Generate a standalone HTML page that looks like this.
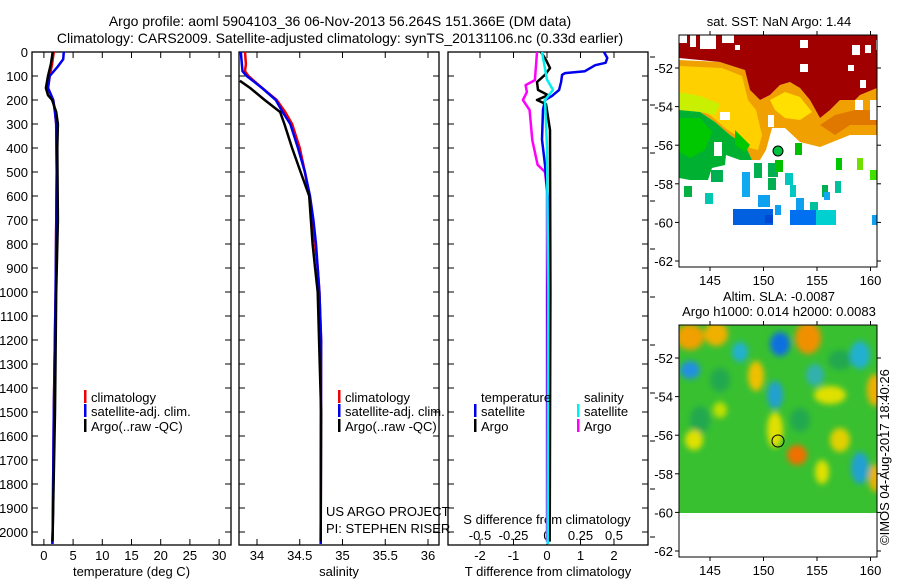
<!DOCTYPE html>
<html><head><meta charset="utf-8"><style>
html,body{margin:0;padding:0;background:#fff}
svg{display:block;font-family:"Liberation Sans",sans-serif}
</style></head><body>
<svg id="fig" width="900" height="580" viewBox="0 0 900 580" xmlns="http://www.w3.org/2000/svg">
<defs>
<filter id="blur" x="-20%" y="-20%" width="140%" height="140%"><feGaussianBlur stdDeviation="3"/></filter>
<clipPath id="clipSST"><rect x="679" y="35" width="198" height="232"/></clipPath>
<clipPath id="clipSLA"><rect x="679" y="325" width="198" height="188"/></clipPath>
</defs>
<text x="340" y="26" text-anchor="middle" font-size="14">Argo profile: aoml 5904103_36 06-Nov-2013 56.264S 151.366E (DM data)</text>
<text x="340" y="43" text-anchor="middle" font-size="14">Climatology: CARS2009. Satellite-adjusted climatology: synTS_20131106.nc (0.33d earlier)</text>

<!-- SST map -->
<g>
<text x="779" y="26" text-anchor="middle" font-size="13">sat. SST: NaN Argo: 1.44</text>
<g clip-path="url(#clipSST)">
<polygon fill="#f0a000" points="679,60 720,62 745,68 750,90 760,100 770,95 780,85 790,82 800,88 810,100 820,118 830,110 840,100 855,100 860,95 877,88 877,135 850,135 820,147 800,142 785,128 772,128 766,150 760,160 752,160 745,145 730,135 715,122 700,112 679,110"/>
<polygon fill="#ffd000" points="679,66 722,68 742,76 748,100 756,110 762,135 758,150 750,148 740,138 725,128 710,115 695,108 679,100"/>
<polygon fill="#ffe000" points="770,100 785,92 800,97 812,112 800,120 785,118 775,110"/>
<polygon fill="#c8f000" points="679,92 700,96 720,104 715,115 700,112 679,110"/>
<polygon fill="#e07800" points="820,125 835,115 855,110 877,110 877,125 850,125 835,135"/>
<polygon fill="#a00000" points="679,35 877,35 877,88 860,95 855,100 840,100 830,110 820,118 810,100 800,88 790,82 780,85 770,95 760,100 750,90 745,70 720,62 679,58"/>
<rect x="679" y="35" width="8" height="8" fill="#fff"/><rect x="690" y="35" width="6" height="12" fill="#fff"/>
<rect x="700" y="35" width="16" height="14" fill="#fff"/><rect x="722" y="35" width="12" height="8" fill="#fff"/>
<rect x="735" y="45" width="5" height="5" fill="#fff"/><rect x="800" y="40" width="8" height="8" fill="#fff"/>
<rect x="852" y="45" width="8" height="10" fill="#fff"/><rect x="865" y="45" width="6" height="8" fill="#fff"/>
<rect x="876" y="40" width="3" height="10" fill="#fff"/><rect x="848" y="65" width="6" height="6" fill="#fff"/>
<rect x="800" y="64" width="8" height="8" fill="#fff"/><rect x="860" y="80" width="6" height="8" fill="#fff"/>
<rect x="870" y="100" width="7" height="20" fill="#fff"/><rect x="855" y="100" width="8" height="10" fill="#fff"/>
<rect x="720" y="112" width="10" height="8" fill="#fff"/><rect x="768" y="115" width="6" height="12" fill="#fff"/>
<polygon fill="#00b030" points="679,110 700,112 715,122 730,135 745,145 752,160 740,160 726,155 725,165 712,168 708,180 690,180 679,178"/>
<polygon fill="#00c800" points="679,118 700,118 712,132 705,150 690,158 679,152"/>
<polygon fill="#00c800" points="735,130 750,145 745,152 735,145"/>
<rect x="714" y="142" width="8" height="14" fill="#fff"/>
<rect x="711" y="170" width="12" height="12" fill="#00b050"/>
<rect x="684" y="186" width="8" height="11" fill="#00b040"/>
<rect x="705" y="193" width="8" height="11" fill="#00c8b0"/>
<rect x="742" y="172" width="8" height="25" fill="#10a8f0"/>
<rect x="754" y="163" width="8" height="15" fill="#00b050"/>
<rect x="768" y="163" width="10" height="14" fill="#00b050"/>
<rect x="775" y="160" width="8" height="12" fill="#00c000"/>
<rect x="768" y="178" width="8" height="12" fill="#00b050"/>
<rect x="785" y="173" width="8" height="12" fill="#00c8c0"/>
<rect x="790" y="185" width="6" height="12" fill="#00c8c0"/>
<rect x="795" y="143" width="7" height="12" fill="#00c000"/>
<rect x="758" y="195" width="12" height="12" fill="#10a0f0"/>
<rect x="775" y="205" width="6" height="10" fill="#10a0f0"/>
<rect x="796" y="198" width="8" height="15" fill="#10a0f0"/>
<rect x="810" y="202" width="8" height="12" fill="#00c0a0"/>
<rect x="822" y="185" width="6" height="12" fill="#00b050"/>
<rect x="824" y="192" width="6" height="8" fill="#10a8f0"/>
<rect x="835" y="181" width="6" height="12" fill="#00c0a0"/>
<rect x="836" y="158" width="6" height="12" fill="#00c800"/>
<rect x="857" y="158" width="6" height="12" fill="#70e000"/>
<rect x="870" y="170" width="7" height="10" fill="#40e000"/>
<rect x="733" y="209" width="40" height="16" fill="#0060e0"/>
<rect x="765" y="215" width="8" height="8" fill="#0048d0"/>
<rect x="790" y="210" width="26" height="15" fill="#0070f0"/>
<rect x="816" y="210" width="20" height="15" fill="#00d0d0"/>
<rect x="872" y="215" width="5" height="10" fill="#10a0f0"/>
<circle cx="778" cy="151" r="5" fill="#00c040" stroke="#000" stroke-width="1"/>
</g>
<rect x="679" y="35" width="198" height="232" fill="none" stroke="#000"/>
</g>

<!-- SLA map -->
<g>
<text x="779" y="301" text-anchor="middle" font-size="13">Altim. SLA: -0.0087</text>
<text x="779" y="316" text-anchor="middle" font-size="13">Argo h1000: 0.014 h2000: 0.0083</text>
<g clip-path="url(#clipSLA)">
<rect x="679" y="325" width="198" height="188" fill="#38c030"/>
<g filter="url(#blur)">
<ellipse cx="720" cy="380" rx="10" ry="12" fill="#20a850"/>
<ellipse cx="840" cy="360" rx="12" ry="10" fill="#20a850"/>
<ellipse cx="700" cy="420" rx="10" ry="14" fill="#20a850"/>
<ellipse cx="800" cy="420" rx="10" ry="12" fill="#20a850"/>
<ellipse cx="690" cy="337" rx="14" ry="13" fill="#f0a000"/>
<ellipse cx="716" cy="334" rx="12" ry="12" fill="#f0b000"/>
<ellipse cx="808" cy="338" rx="13" ry="16" fill="#f09000"/>
<ellipse cx="780" cy="344" rx="10" ry="12" fill="#1070e0"/>
<ellipse cx="740" cy="352" rx="8" ry="10" fill="#20b0d0"/>
<ellipse cx="690" cy="370" rx="10" ry="9" fill="#2090e0"/>
<ellipse cx="756" cy="376" rx="8" ry="15" fill="#f0c000"/>
<ellipse cx="775" cy="395" rx="8" ry="14" fill="#20a0d0"/>
<ellipse cx="815" cy="375" rx="9" ry="11" fill="#30b0b0"/>
<ellipse cx="860" cy="355" rx="10" ry="14" fill="#20b0d0"/>
<ellipse cx="875" cy="390" rx="8" ry="16" fill="#f0b000"/>
<ellipse cx="830" cy="395" rx="16" ry="9" fill="#e0e000"/>
<ellipse cx="775" cy="430" rx="8" ry="18" fill="#e0e000"/>
<ellipse cx="797" cy="455" rx="10" ry="10" fill="#f07000"/>
<ellipse cx="860" cy="468" rx="9" ry="16" fill="#20a0d0"/>
<ellipse cx="840" cy="440" rx="10" ry="12" fill="#e0d000"/>
<ellipse cx="694" cy="440" rx="9" ry="10" fill="#e0e000"/>
<ellipse cx="720" cy="410" rx="7" ry="8" fill="#c0e000"/>
<ellipse cx="822" cy="472" rx="7" ry="12" fill="#e0e000"/>
<ellipse cx="875" cy="478" rx="6" ry="14" fill="#f0b000"/>
</g>
<circle cx="778" cy="441" r="6" fill="none" stroke="#000" stroke-width="1"/>
</g>
<rect x="679" y="325" width="198" height="232" fill="none" stroke="#000"/>
</g>
<text transform="translate(889,545) rotate(-90)" font-size="13">©IMOS 04-Aug-2017 18:40:26</text>

<g id="charts"></g>
</svg>
<script>
// ---- data ----
const pTempClim = [0,50,100,150,200,250,300,500,1000,1500,2000,2050];
const tempClim  = [1.7,1.4,1.0,0.7,1.6,1.9,2.1,2.2,2.0,1.7,1.5,1.45];
const pTempSat  = [0,30,60,100,150,200,250,300,500,1000,1500,2000,2050];
const tempSat   = [3.4,3.3,2.4,1.0,0.7,1.6,1.9,2.1,2.2,2.0,1.7,1.5,1.45];
const pTempArgo = [0,50,100,150,180,200,250,300,400,700,1000,1500,2000,2040];
const tempArgo  = [1.5,1.2,0.7,0.35,0.7,1.4,2.1,2.4,2.3,2.4,2.1,1.9,1.5,1.45];

const pSalClim = [0,50,80,100,150,200,250,300,400,500,600,700,800,900,1000,1200,2050];
const salClim  = [33.86,33.87,33.86,33.9,34.06,34.23,34.33,34.41,34.50,34.56,34.61,34.65,34.68,34.71,34.73,34.75,34.745];
const pSalSat  = [0,80,100,150,200,250,300,400,500,600,700,800,900,1000,1200,2050];
const salSat   = [33.81,33.83,33.88,34.06,34.22,34.30,34.39,34.48,34.56,34.62,34.66,34.69,34.71,34.73,34.75,34.745];
const pSalArgo = [120,150,200,250,300,400,500,600,700,800,900,1000,1500,2040];
const salArgo  = [33.80,33.92,34.09,34.27,34.32,34.41,34.51,34.61,34.63,34.65,34.68,34.71,34.75,34.745];

const pDTSat  = [0,25,45,55,80,88,95,125,158,183,200,240,365,470,615,1000,2050];
const dTSat   = [1.7,1.8,1.75,1.44,1.13,0.54,0.45,0.42,0.36,0.15,-0.06,-0.12,-0.15,-0.06,0.03,0.02,0.02];
const pDTArgo = [0,33,67,95,125,158,180,200,217,325,1000,2040];
const dTArgo  = [-0.18,-0.03,0.09,-0.06,-0.3,-0.27,0.03,-0.3,-0.03,0.09,0.1,0.08];
const pDSSat  = [0,115,158,200,400,1000,2050];
const dSSat   = [-0.037,0,0.045,-0.015,0,0.01,0.005];
const pDSArgo = [0,117,138,167,200,242,367,470,500,575,2040];
const dSArgo  = [-0.075,-0.09,-0.16,-0.15,-0.18,-0.13,-0.11,-0.07,-0.015,0,0];

const pTicks = [0,100,200,300,400,500,600,700,800,900,1000,1100,1200,1300,1400,1500,1600,1700,1800,1900,2000];
const tTicks = [0,5,10,15,20,25,30];
const sTicks = [34,34.5,35,35.5,36];
const dTTicks = [-2,-1,0,1,2];
const dSTicks = [-0.5,-0.25,0,0.25,0.5];

// ---- scales ----
const TOP=52, BOT=545;
const yP = p => TOP + p*0.24;
const xT = t => 43.9 + t*5.84;
const xS = s => 257 + (s-34)*85.5;
const xDT = d => 547 + d*33.5;
const xDS = d => 547 + d*134;

const NS='http://www.w3.org/2000/svg';
const root=document.getElementById('charts');
function mk(tag,attrs,parent){const e=document.createElementNS(NS,tag);for(const k in attrs)e.setAttribute(k,attrs[k]);(parent||root).appendChild(e);return e;}
function stepPath(ps,vs,xf){
  let d='';
  for(let i=0;i<ps.length;i++){
    const x=xf(vs[i]).toFixed(1), y=yP(ps[i]).toFixed(1);
    d+=(i?'L':'M')+x+','+y;
  }
  return d;
}
function line(ps,vs,xf,color,w,name){
  const e=mk('path',{d:stepPath(ps,vs,xf),fill:'none',stroke:color,'stroke-width':w,'stroke-linejoin':'round'});
  
  
}
function panel(x0,x1,name,xt,xf,lbls,title){
  const g=mk('g',{});
  
  
  const r=mk('rect',{x:x0,y:TOP,width:x1-x0,height:BOT-TOP,fill:'none',stroke:'#000','stroke-width':1.3},g);
  
  
  pTicks.forEach(p=>{
    mk('line',{x1:x0,x2:x0+6,y1:yP(p),y2:yP(p),stroke:'#000'},g);
    mk('line',{x1:x1,x2:x1-6,y1:yP(p),y2:yP(p),stroke:'#000'},g);
  });
  xt.forEach((v,i)=>{
    const x=xf(v);
    mk('line',{x1:x,x2:x,y1:TOP,y2:TOP+6,stroke:'#000'},g);
    mk('line',{x1:x,x2:x,y1:BOT,y2:BOT-6,stroke:'#000'},g);
    if(lbls){
      const t=mk('text',{x:x,y:560,'text-anchor':'middle','font-size':13},g);
      t.textContent=lbls[i];
      
      
    }
  });
  const tt=mk('text',{x:(x0+x1)/2,y:576,'text-anchor':'middle','font-size':13},g);
  tt.textContent=title;
  
  
}
pTicks.forEach(p=>{
  const t=mk('text',{x:28,y:yP(p)+5,'text-anchor':'end','font-size':13});
  t.textContent=p;
  
  
});
panel(32,231,'temperature-panel',tTicks,xT,tTicks.map(String),'temperature (deg C)');
panel(239,439,'salinity-panel',sTicks,xS,sTicks.map(String),'salinity');
panel(448,648,'difference-panel',dTTicks,xDT,dTTicks.map(String),'T difference from climatology');
dSTicks.forEach(v=>{
  const t=mk('text',{x:xDS(v),y:540,'text-anchor':'middle','font-size':13});
  t.textContent=String(v);
  
  
});
const st=mk('text',{x:547,y:524,'text-anchor':'middle','font-size':13});
st.textContent='S difference from climatology';


pTicks.forEach(p=>{ if(p%200===0) mk('line',{x1:650,x2:655,y1:yP(p)+5,y2:yP(p)+5,stroke:'#000'}); });

line(pTempClim,tempClim,xT,'#f00000',2.5,'temp-climatology-line');
line(pTempSat,tempSat,xT,'#0000f0',2.5,'temp-satellite-line');
line(pTempArgo,tempArgo,xT,'#000',2.5,'temp-argo-line');
line(pSalClim,salClim,xS,'#f00000',2.5,'sal-climatology-line');
line(pSalSat,salSat,xS,'#0000f0',2.5,'sal-satellite-line');
line(pSalArgo,salArgo,xS,'#000',2.5,'sal-argo-line');
line(pDTArgo,dTArgo,xDT,'#000',2.5,'t-diff-argo-line');
line(pDSArgo,dSArgo,xDS,'#ff00ff',2.5,'s-diff-argo-line');
line(pDTSat,dTSat,xDT,'#0000f0',2.5,'t-diff-satellite-line');
line(pDSSat,dSSat,xDS,'#00f0f0',2.5,'s-diff-satellite-line');

function legend(x,y,color,label,name){
  const g=mk('g',{});
  
  
  if(color) mk('rect',{x:x,y:y-7,width:2.5,height:13,fill:color},g);
  const t=mk('text',{x:x+7,y:y+5,'font-size':13},g);
  t.textContent=label;
}
legend(84,397,'#f00000','climatology','legend-temp-climatology');
legend(84,411,'#0000f0','satellite-adj. clim.','legend-temp-satellite');
legend(84,426,'#000','Argo(..raw -QC)','legend-temp-argo');
legend(338,397,'#f00000','climatology','legend-sal-climatology');
legend(338,411,'#0000f0','satellite-adj. clim.','legend-sal-satellite');
legend(338,426,'#000','Argo(..raw -QC)','legend-sal-argo');
legend(474,397,null,'temperature','legend-title-temperature');
legend(474,411,'#0000f0','satellite','legend-dt-satellite');
legend(474,426,'#000','Argo','legend-dt-argo');
legend(577,397,null,'salinity','legend-title-salinity');
legend(577,411,'#00f0f0','satellite','legend-ds-satellite');
legend(577,426,'#ff00ff','Argo','legend-ds-argo');
const a1=mk('text',{x:326,y:516,'font-size':13});a1.textContent='US ARGO PROJECT';


const a2=mk('text',{x:326,y:533,'font-size':13});a2.textContent='PI: STEPHEN RISER';



function mapAxes(x0,y0,name){
  const lons=[145,150,155,160], lats=[-52,-54,-56,-58,-60,-62];
  const xl=l=>x0+31+(l-145)*10.7, yl=l=>y0+33+(-52-l)*19.3;
  lons.forEach(l=>{
    mk('line',{x1:xl(l),x2:xl(l),y1:y0,y2:y0-4,stroke:'#000'});
    mk('line',{x1:xl(l),x2:xl(l),y1:y0+232,y2:y0+236,stroke:'#000'});
    const t=mk('text',{x:xl(l),y:y0+250,'text-anchor':'middle','font-size':13});t.textContent=l;
    
    
  });
  lats.forEach(l=>{
    mk('line',{x1:x0,x2:x0-4,y1:yl(l),y2:yl(l),stroke:'#000'});
    mk('line',{x1:x0+198,x2:x0+202,y1:yl(l),y2:yl(l),stroke:'#000'});
    const t=mk('text',{x:x0-6,y:yl(l)+5,'text-anchor':'end','font-size':13});t.textContent=l;
    
    
  });
}
mapAxes(679,35,'sst-map');
mapAxes(679,325,'sla-map');
</script>
</body></html>
